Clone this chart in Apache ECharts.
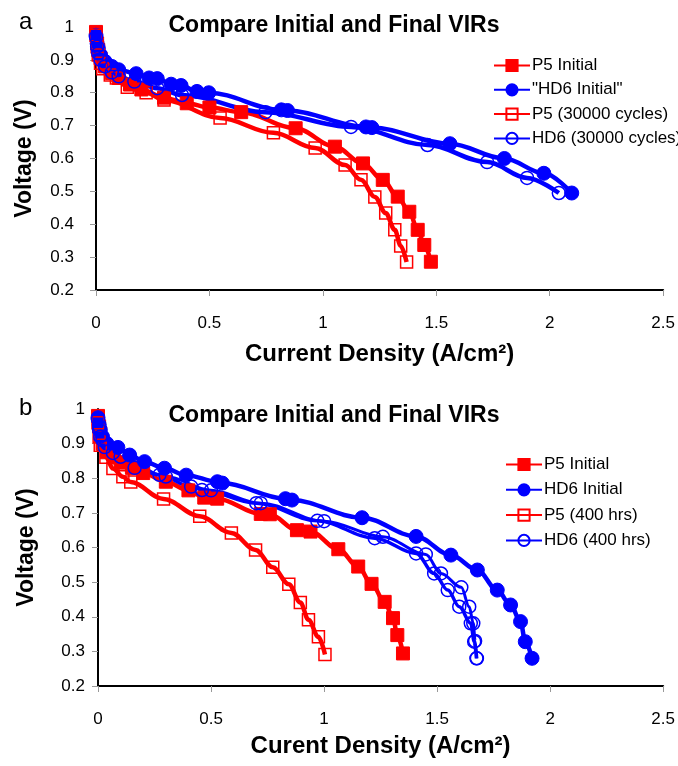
<!DOCTYPE html>
<html>
<head>
<meta charset="utf-8">
<script src="https://cdn.jsdelivr.net/npm/echarts@6/dist/echarts.min.js"></script>
<style>html,body{margin:0;padding:0;background:#fff}#c{width:678px;height:766px}</style>
</head>
<body>
<div id="c"></div>
<script>
// ---------- Data (panel a) ----------
const aTitle = 'Compare Initial and Final VIRs';
const aXName = 'Current Density (A/cm\u00B2)';
const aNames = ['P5 Initial', '"HD6 Initial"', 'P5 (30000 cycles)', 'HD6 (30000 cycles)'];
const aP5InitX = [0, 0.005, 0.01, 0.02, 0.04, 0.07, 0.1, 0.15, 0.2, 0.3, 0.4, 0.5, 0.64, 0.88, 1.053, 1.177, 1.264, 1.33, 1.381, 1.418, 1.447, 1.476];
const aP5InitV = [0.985, 0.95, 0.93, 0.905, 0.88, 0.86, 0.845, 0.825, 0.81, 0.785, 0.768, 0.755, 0.741, 0.692, 0.636, 0.585, 0.535, 0.484, 0.438, 0.383, 0.337, 0.286];
const aHD6InitX = [0, 0.005, 0.01, 0.02, 0.04, 0.07, 0.1, 0.177, 0.234, 0.27, 0.331, 0.375, 0.445, 0.497, 0.817, 0.844, 1.19, 1.216, 1.56, 1.8, 1.974, 2.097];
const aHD6InitV = [0.975, 0.95, 0.935, 0.915, 0.895, 0.88, 0.87, 0.858, 0.845, 0.843, 0.826, 0.822, 0.804, 0.8, 0.748, 0.746, 0.696, 0.694, 0.645, 0.6, 0.555, 0.495];
const aP5CycX = [0, 0.005, 0.01, 0.02, 0.03, 0.063, 0.09, 0.138, 0.221, 0.3, 0.547, 0.782, 0.966, 1.098, 1.168, 1.229, 1.277, 1.317, 1.343, 1.369];
const aP5CycV = [0.975, 0.94, 0.915, 0.89, 0.873, 0.854, 0.845, 0.817, 0.8, 0.778, 0.723, 0.678, 0.632, 0.58, 0.535, 0.483, 0.434, 0.383, 0.334, 0.285];
const aHD6CycX = [0, 0.005, 0.01, 0.02, 0.04, 0.07, 0.1, 0.169, 0.27, 0.379, 0.747, 1.124, 1.461, 1.724, 1.9, 2.04];
const aHD6CycV = [0.97, 0.94, 0.92, 0.9, 0.88, 0.862, 0.85, 0.834, 0.814, 0.793, 0.741, 0.696, 0.641, 0.589, 0.541, 0.495];

// ---------- Data (panel b) ----------
const bTitle = 'Compare Initial and Final VIRs';
const bXName = 'Curent Density (A/cm\u00B2)';
const bNames = ['P5 Initial', 'HD6 Initial', 'P5 (400 hrs)', 'HD6 (400 hrs)'];
const bP5InitX = [0, 0.005, 0.01, 0.02, 0.04, 0.07, 0.1, 0.15, 0.2, 0.3, 0.4, 0.47, 0.527, 0.72, 0.76, 0.88, 0.94, 1.063, 1.151, 1.21, 1.268, 1.305, 1.324, 1.349];
const bP5InitV = [0.98, 0.95, 0.93, 0.9, 0.875, 0.86, 0.845, 0.83, 0.815, 0.79, 0.765, 0.744, 0.741, 0.697, 0.696, 0.65, 0.646, 0.595, 0.545, 0.495, 0.443, 0.396, 0.347, 0.294];
const bHD6InitX = [0, 0.005, 0.01, 0.02, 0.04, 0.088, 0.14, 0.206, 0.294, 0.39, 0.528, 0.55, 0.829, 0.858, 1.168, 1.407, 1.561, 1.678, 1.766, 1.825, 1.869, 1.89, 1.92];
const bHD6InitV = [0.975, 0.955, 0.94, 0.92, 0.9, 0.889, 0.867, 0.848, 0.829, 0.809, 0.79, 0.786, 0.741, 0.737, 0.686, 0.632, 0.578, 0.535, 0.477, 0.434, 0.386, 0.328, 0.28];
const bP5HrsX = [0, 0.005, 0.01, 0.035, 0.066, 0.11, 0.145, 0.29, 0.45, 0.59, 0.697, 0.773, 0.844, 0.895, 0.931, 0.975, 1.004];
const bP5HrsV = [0.96, 0.92, 0.895, 0.861, 0.828, 0.804, 0.789, 0.74, 0.69, 0.642, 0.593, 0.543, 0.494, 0.441, 0.391, 0.342, 0.291];
const bHD6HrsX = [0, 0.005, 0.01, 0.03, 0.066, 0.162, 0.272, 0.412, 0.46, 0.7, 0.97, 1.224, 1.407, 1.487, 1.547, 1.598, 1.649, 1.664, 1.674];
const bHD6HrsV = [0.97, 0.94, 0.92, 0.89, 0.873, 0.83, 0.81, 0.776, 0.766, 0.728, 0.677, 0.627, 0.583, 0.525, 0.477, 0.429, 0.381, 0.328, 0.28];
const bHD6Hrs2X = [0.005, 0.02, 0.1, 0.3, 0.5, 0.72, 1.0, 1.26, 1.45, 1.517, 1.607, 1.642, 1.66, 1.668, 1.676];
const bHD6Hrs2V = [0.95, 0.91, 0.862, 0.805, 0.765, 0.728, 0.676, 0.631, 0.58, 0.525, 0.485, 0.429, 0.381, 0.33, 0.28];

const yTicks = { min: 0.2, max: 1, interval: 0.1 };
const xTicks = { min: 0, max: 2.5, interval: 0.5 };

// ---------- Build ----------
const RED = '#ff0000', BLUE = '#0000ff';
const zip = (xs, ys) => xs.map((x, i) => [x, ys[i]]);
function mk(name, xs, ys, idx, color, symbol, filled, lw) {
  const size = symbol === 'circle' ? (filled ? 14 : 13) : (filled ? 13 : 12);
  return {
    type: 'line', name, xAxisIndex: idx, yAxisIndex: idx,
    data: zip(xs, ys), smooth: 0.35, smoothMonotone: 'x',
    symbol, symbolSize: size,
    clip: false,
    lineStyle: { color, width: lw || 4.5 },
    itemStyle: filled ? { color, borderColor: color, borderWidth: 1 }
                      : { color: 'rgba(255,255,255,0)', borderColor: color, borderWidth: 1.5 },
    emphasis: { disabled: true },
    animation: false
  };
}
const tickFont = { fontFamily: '"Liberation Sans", Arial, sans-serif', fontSize: 17, color: '#000' };
const boldName = { fontFamily: '"Liberation Sans", Arial, sans-serif', fontSize: 24, fontWeight: 'bold', color: '#000' };

function xAx(idx, name, gap) {
  return {
    type: 'value', gridIndex: idx, ...xTicks, name, nameLocation: 'middle', nameGap: gap,
    nameTextStyle: boldName,
    axisLine: { show: true, onZero: false, lineStyle: { color: '#000', width: 2 } },
    axisTick: { show: true, length: 6, lineStyle: { color: '#999', width: 1 } },
    axisLabel: { ...tickFont, margin: 25 },
    splitLine: { show: false }
  };
}
function yAx(idx, margin) {
  return {
    type: 'value', gridIndex: idx, ...yTicks, name: 'Voltage (V)', nameLocation: 'middle', nameGap: 60,
    nameTextStyle: { ...boldName, fontSize: 23 },
    axisLine: { show: true, onZero: false, lineStyle: { color: '#000', width: 2 } },
    axisTick: { show: true, length: 6, lineStyle: { color: '#999', width: 1 } },
    axisLabel: { ...tickFont, margin },
    splitLine: { show: false }
  };
}
function legend(names, left, top, gap) {
  return {
    data: names, orient: 'vertical', left, top, itemWidth: 36, itemHeight: 14, itemGap: gap,
    selectedMode: false,
    textStyle: { fontFamily: '"Liberation Sans", Arial, sans-serif', fontSize: 17, color: '#000', padding: [0, 0, 0, -3], lineHeight: 16 }
  };
}

const option = {
  backgroundColor: '#fff',
  animation: false,
  title: [
    { text: aTitle, left: 329, top: 9, textAlign: 'center', textStyle: { ...boldName, fontSize: 23 } },
    { text: bTitle, left: 329, top: 399, textAlign: 'center', textStyle: { ...boldName, fontSize: 23 } }
  ],
  graphic: [
    { type: 'text', left: 19, top: 10, style: { text: 'a', font: '24px "Liberation Sans", Arial, sans-serif', fill: '#000' } },
    { type: 'text', left: 19, top: 396, style: { text: 'b', font: '24px "Liberation Sans", Arial, sans-serif', fill: '#000' } }
  ],
  legend: [legend(aNames, 488, 52, 7.3), legend(bNames, 500, 451, 8.3)],
  grid: [
    { left: 96, right: 11, top: 27, height: 263 },
    { left: 98, right: 10, top: 409, height: 277 }
  ],
  xAxis: [xAx(0, aXName, 52), xAx(1, bXName, 48)],
  yAxis: [yAx(0, 22), yAx(1, 13)],
  series: [
    mk(aNames[0], aP5InitX, aP5InitV, 0, RED, 'rect', true),
    mk(aNames[1], aHD6InitX, aHD6InitV, 0, BLUE, 'circle', true),
    mk(aNames[2], aP5CycX, aP5CycV, 0, RED, 'rect', false),
    mk(aNames[3], aHD6CycX, aHD6CycV, 0, BLUE, 'circle', false),
    mk(bNames[0], bP5InitX, bP5InitV, 1, RED, 'rect', true),
    mk(bNames[1], bHD6InitX, bHD6InitV, 1, BLUE, 'circle', true),
    mk(bNames[2], bP5HrsX, bP5HrsV, 1, RED, 'rect', false),
    mk(bNames[3], bHD6HrsX, bHD6HrsV, 1, BLUE, 'circle', false, 3.5),
    mk(bNames[3], bHD6Hrs2X, bHD6Hrs2V, 1, BLUE, 'circle', false, 3)
  ]
};
const chart = echarts.init(document.getElementById('c'), null, { renderer: 'canvas' });
chart.setOption(option);
</script>
</body>
</html>
